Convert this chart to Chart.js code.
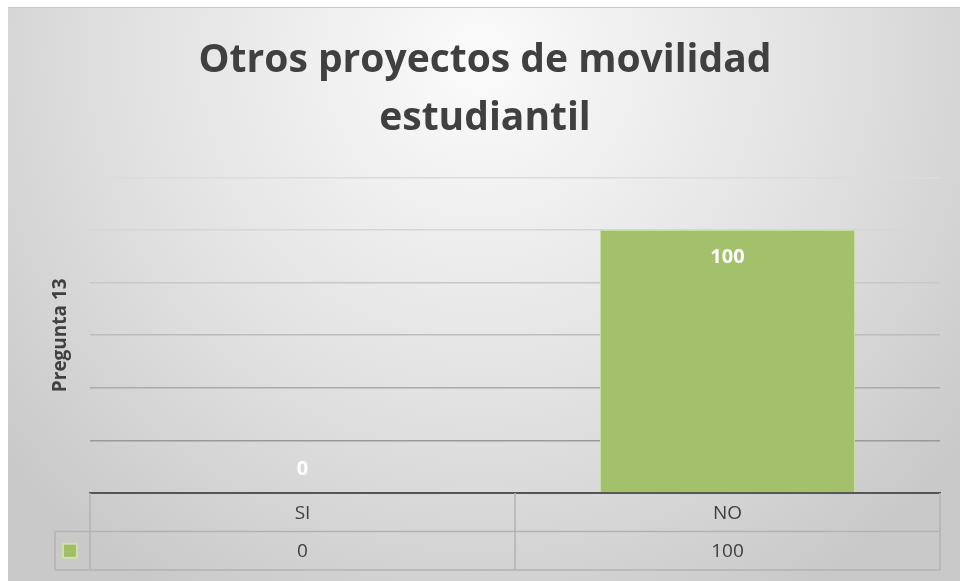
<!DOCTYPE html>
<html>
<head>
<meta charset="utf-8">
<script src="https://cdn.jsdelivr.net/npm/chart.js@4"></script>
<style>
  html, body { margin: 0; padding: 0; background: #fff; }
  #wrap { width: 960px; height: 581px; position: relative; }
</style>
</head>
<body>
<div id="wrap"><canvas id="chart" width="960" height="581"></canvas></div>
<script>
const categories = ["SI", "NO"];
const values = [0, 100];
const seriesName = "Pregunta 13";
const titleLines = ["Otros proyectos de movilidad", "estudiantil"];
const yMax = 120;
const yStep = 20;

// grid lines get darker toward the base, like the original
const gridShades = ["#888888", "#999999", "#aaaaaa", "#bcbcbc", "#c8c8c8", "#d6d6d6", "#dcdcdc"];

const panelBg = {
  id: "panelBg",
  beforeDraw(chart) {
    const ctx = chart.ctx;
    ctx.save();
    const g = ctx.createRadialGradient(480, 60, 0, 480, 60, 620);
    g.addColorStop(0, "#fbfbfb");
    g.addColorStop(0.55, "#e2e2e2");
    g.addColorStop(1, "#c9c9c9");
    ctx.fillStyle = g;
    ctx.fillRect(8, 7, 952, 574);
    ctx.strokeStyle = "#c8c8c8";
    ctx.lineWidth = 1;
    ctx.beginPath();
    ctx.moveTo(8, 7.5);
    ctx.lineTo(960, 7.5);
    ctx.stroke();
    ctx.restore();
  }
};

// value labels on the bars
const valueLabels = {
  id: "valueLabels",
  afterDatasetsDraw(chart) {
    const ctx = chart.ctx;
    const x = chart.scales.x, y = chart.scales.y;
    ctx.save();
    ctx.fillStyle = "#ffffff";
    ctx.font = "bold 20px 'Open Sans'";
    ctx.textAlign = "center";
    ctx.textBaseline = "middle";
    values.forEach((v, i) => {
      const px = x.getPixelForValue(i);
      const py = y.getPixelForValue(v);
      const ly = v === 0 ? py - 24 : py + 27;
      ctx.fillText(String(v), px, ly);
    });
    ctx.restore();
  }
};

// data table under the x axis
const dataTable = {
  id: "dataTable",
  afterDraw(chart) {
    const ctx = chart.ctx;
    const x = chart.scales.x;
    const area = chart.chartArea;
    const top = area.bottom;
    const rowH = 38.5;
    const half = (x.getPixelForValue(1) - x.getPixelForValue(0)) / 2;
    const left = area.left, right = area.right;
    const keyLeft = 55;
    ctx.save();
    ctx.strokeStyle = "#b2b2b2";
    ctx.lineWidth = 1.5;
    ctx.beginPath();
    ctx.moveTo(keyLeft, top + rowH); ctx.lineTo(right, top + rowH);
    ctx.moveTo(keyLeft, top + 2 * rowH); ctx.lineTo(right, top + 2 * rowH);
    ctx.moveTo(left, top); ctx.lineTo(left, top + 2 * rowH);
    ctx.moveTo(right, top); ctx.lineTo(right, top + 2 * rowH);
    ctx.moveTo(keyLeft, top + rowH); ctx.lineTo(keyLeft, top + 2 * rowH);
    categories.forEach((c, i) => {
      if (i > 0) {
        const bx = x.getPixelForValue(i) - half;
        ctx.moveTo(bx, top); ctx.lineTo(bx, top + 2 * rowH);
      }
    });
    ctx.stroke();

    ctx.fillStyle = "#404040";
    ctx.font = "19px 'Open Sans'";
    ctx.textAlign = "center";
    ctx.textBaseline = "middle";
    categories.forEach((c, i) => {
      const px = x.getPixelForValue(i);
      ctx.fillText(c, px, top + rowH / 2 + 1);
      ctx.fillText(String(values[i]), px, top + rowH * 1.5 + 1);
    });

    // legend key
    const ky = top + rowH * 1.5;
    ctx.fillStyle = "#cfe0b0";
    ctx.fillRect(62, ky - 8, 16, 16);
    ctx.fillStyle = "#9fbf62";
    ctx.fillRect(64, ky - 6, 12, 12);
    ctx.restore();
  }
};

new Chart(document.getElementById("chart"), {
  type: "bar",
  data: {
    labels: categories,
    datasets: [{
      label: seriesName,
      data: values,
      backgroundColor: "#a3c06b",
      borderColor: "#c8dca2",
      borderWidth: 1,
      barPercentage: 0.6,
      categoryPercentage: 1
    }]
  },
  options: {
    responsive: false,
    animation: false,
    layout: { padding: { top: 32, left: 30, right: 20, bottom: 88 } },
    plugins: {
      legend: { display: false },
      tooltip: { enabled: false },
      title: {
        display: true,
        text: titleLines,
        color: "#404040",
        font: { family: "'Open Sans'", size: 39, weight: "bold", lineHeight: 1.48 },
        padding: { top: 0, bottom: 30 }
      }
    },
    scales: {
      x: {
        grid: { display: false, drawTicks: false },
        border: { display: true, color: "#555555", width: 2 },
        ticks: { display: false }
      },
      y: {
        min: 0,
        max: yMax,
        ticks: { display: false, stepSize: yStep },
        grid: {
          drawTicks: false,
          lineWidth: 1.5,
          color: (c) => gridShades[c.index] || "#cccccc"
        },
        border: { display: false },
        title: {
          display: true,
          text: seriesName,
          color: "#404040",
          font: { family: "'Open Sans'", size: 19, weight: "bold" },
          padding: { top: 19, bottom: 0 }
        },
        afterFit(scale) { scale.width = 60; }
      }
    }
  },
  plugins: [panelBg, valueLabels, dataTable]
});
</script>
</body>
</html>
